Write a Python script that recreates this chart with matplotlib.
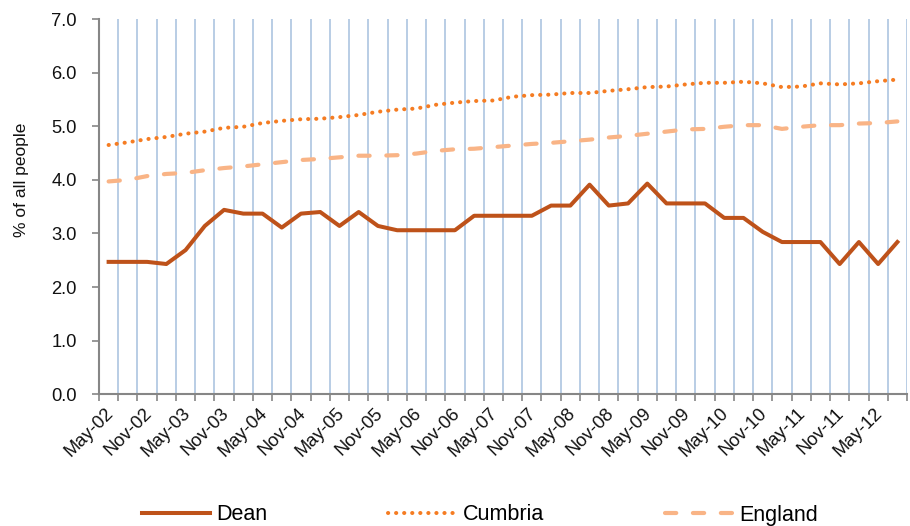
import matplotlib
matplotlib.use("Agg")
import matplotlib.pyplot as plt
import matplotlib.transforms as mtransforms
import numpy as np

plt.rcParams['font.family'] = ['Liberation Sans', 'DejaVu Sans']

# Quarterly categories May-02 .. Aug-12 (labels every second quarter)
tick_labels = ["May-02", "Nov-02", "May-03", "Nov-03", "May-04", "Nov-04", "May-05",
               "Nov-05", "May-06", "Nov-06", "May-07", "Nov-07", "May-08", "Nov-08",
               "May-09", "Nov-09", "May-10", "Nov-10", "May-11", "Nov-11", "May-12"]

dean = [2.47, 2.47, 2.47, 2.43, 2.69, 3.14, 3.44, 3.37, 3.37, 3.11,
        3.37, 3.40, 3.14, 3.40, 3.14, 3.06, 3.06, 3.06, 3.06, 3.33,
        3.33, 3.33, 3.33, 3.52, 3.52, 3.91, 3.52, 3.56, 3.93, 3.56,
        3.56, 3.56, 3.29, 3.29, 3.03, 2.84, 2.84, 2.84, 2.43, 2.84,
        2.43, 2.84]

cumbria = [4.65, 4.70, 4.76, 4.80, 4.86, 4.90, 4.97, 4.99, 5.06, 5.10,
           5.13, 5.14, 5.17, 5.21, 5.27, 5.31, 5.33, 5.40, 5.44, 5.47,
           5.48, 5.55, 5.58, 5.59, 5.62, 5.62, 5.66, 5.69, 5.73, 5.74,
           5.78, 5.81, 5.81, 5.83, 5.80, 5.73, 5.74, 5.80, 5.78, 5.80,
           5.84, 5.87]

england = [3.97, 4.00, 4.07, 4.11, 4.13, 4.18, 4.22, 4.25, 4.29, 4.33,
           4.37, 4.39, 4.42, 4.45, 4.45, 4.46, 4.49, 4.54, 4.57, 4.58,
           4.61, 4.64, 4.67, 4.69, 4.72, 4.75, 4.79, 4.82, 4.86, 4.90,
           4.94, 4.95, 4.99, 5.02, 5.02, 4.95, 4.99, 5.02, 5.02, 5.05,
           5.06, 5.09]

n = len(dean)
x = np.arange(n)

fig = plt.figure(figsize=(9.10, 5.26), dpi=100)
ax = fig.add_axes([99/910, 1-394.3/526, 808/910, (394.3-19)/526])

grid_col = '#B9CDE5'
axis_col = '#868686'

# vertical gridlines at category boundaries
bounds = np.arange(n + 1) - 0.5
ax.set_xticks(bounds, minor=True)
ax.grid(True, which='minor', axis='x', color=grid_col, linewidth=1.4, zorder=0)
ax.set_axisbelow(True)

ax.plot(x, england, color='#F9B486', linewidth=3.0, linestyle=(0, (2.7, 4.0)),
        dash_capstyle='round', label='England', zorder=3)
ax.plot(x, cumbria, color='#F57C22', linewidth=2.9, linestyle=(0, (0.05, 1.95)),
        dash_capstyle='round', label='Cumbria', zorder=3)
ax.plot(x, dean, color='#BE521A', linewidth=2.9, label='Dean', zorder=4)

ax.set_xlim(-0.5, n - 0.5)
ax.set_ylim(0, 7)
ax.set_yticks(np.arange(0, 8, 1))
ax.set_yticklabels([f"{v:.1f}" for v in np.arange(0, 8, 1)], fontsize=13.2, color='#111111')

ax.set_xticks(np.arange(0, n, 2)[:len(tick_labels)])
ax.set_xticklabels(tick_labels, fontsize=13.2, rotation=45, ha='right', va='center',
                   rotation_mode='anchor', color='#111111')
ax.tick_params(axis='x', which='major', length=0, pad=12)
ax.tick_params(axis='x', which='minor', length=5, width=1.2, color=axis_col, direction='out')
ax.tick_params(axis='y', length=5, width=1.2, color=axis_col, direction='out', pad=11)

for lab in ax.get_xticklabels():
    lab.set_transform(lab.get_transform() + mtransforms.ScaledTranslation(2/100, 0, fig.dpi_scale_trans))

for s in ['top', 'right']:
    ax.spines[s].set_visible(False)
for s in ['left', 'bottom']:
    ax.spines[s].set_color(axis_col)
    ax.spines[s].set_linewidth(1.5)

fig.text(22/910, 1-180/526, '% of all people', rotation=90, ha='center', va='center',
         fontsize=12.5, color='#111111')

handles, labels = ax.get_legend_handles_labels()
order = [2, 1, 0]
fig.legend([handles[i] for i in order], [labels[i] for i in order], loc='center',
           bbox_to_anchor=(480/910, 1-515/526), ncol=3, frameon=False, fontsize=15.5,
           handlelength=3.15, handletextpad=0.3, columnspacing=5.6, borderpad=0)

fig.savefig('out.png', dpi=100)
